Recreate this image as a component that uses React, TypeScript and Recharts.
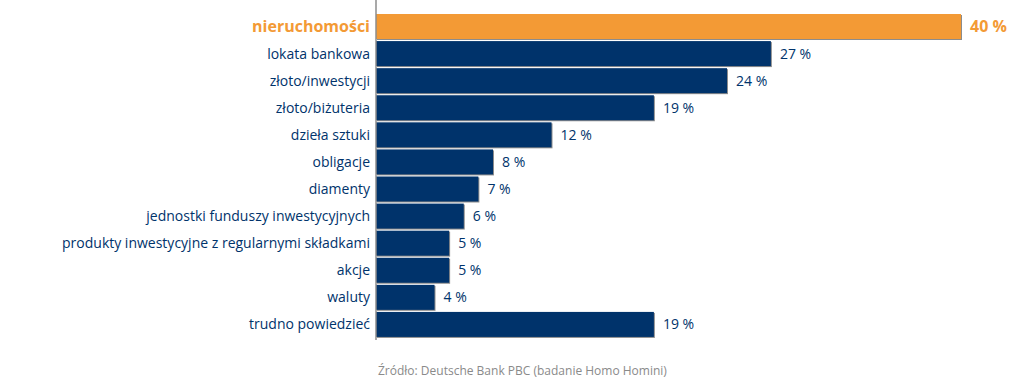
import React from 'react';
import { BarChart, Bar, XAxis, YAxis, Cell, LabelList } from 'recharts';

const categories = [
  'nieruchomości',
  'lokata bankowa',
  'złoto/inwestycji',
  'złoto/biżuteria',
  'dzieła sztuki',
  'obligacje',
  'diamenty',
  'jednostki funduszy inwestycyjnych',
  'produkty inwestycyjne z regularnymi składkami',
  'akcje',
  'waluty',
  'trudno powiedzieć',
];
const shares = [40, 27, 24, 19, 12, 8, 7, 6, 5, 5, 4, 19];
const highlighted = 'nieruchomości';
const sourceNote = 'Źródło: Deutsche Bank PBC (badanie Homo Homini)';

const NAVY = '#00336b';
const ORANGE = '#f39a35';
const FONT = '"Open Sans", "Noto Sans", sans-serif';

const data = categories.map((name, i) => ({ name, value: shares[i] }));

// bar with a thin grey shadow on the right/bottom edge
const ShadowBar = (props: any) => {
  const { x, y, width, height, fill } = props;
  return (
    <g>
      <rect x={x + 1} y={y + 1} width={width} height={height} fill="#8c8c8c" />
      <rect x={x} y={y} width={width} height={height} fill={fill} />
    </g>
  );
};

const CategoryTick = (props: any) => {
  const { x, y, payload } = props;
  const hot = payload.value === highlighted;
  return (
    <text
      x={x}
      y={y}
      dy="0.36em"
      textAnchor="end"
      fill={hot ? ORANGE : NAVY}
      fontFamily={FONT}
      fontSize={hot ? 16 : 14}
      fontWeight={hot ? 700 : 400}
    >
      {payload.value}
    </text>
  );
};

const ValueLabel = (props: any) => {
  const { x, y, width, height, value, index } = props;
  const hot = categories[index] === highlighted;
  return (
    <text
      x={x + width + 9}
      y={y + height / 2}
      dy="0.36em"
      fill={hot ? ORANGE : NAVY}
      fontFamily={FONT}
      fontSize={hot ? 16 : 14}
      fontWeight={hot ? 700 : 400}
    >
      {value} %
    </text>
  );
};

export default function App() {
  return (
    <div style={{ position: 'relative', width: 1014, height: 379, background: '#fff' }}>
      <style>{'body{margin:0}'}</style>
      <BarChart
        width={1014}
        height={379}
        data={data}
        layout="vertical"
        margin={{ top: 0, right: 53, bottom: 39, left: 0 }}
      >
        <XAxis type="number" domain={[0, 40]} hide />
        <YAxis
          type="category"
          dataKey="name"
          width={376}
          axisLine={{ stroke: '#8c8c8c', strokeWidth: 1.5 }}
          tickLine={false}
          tickSize={0}
          tickMargin={6}
          padding={{ top: 13, bottom: 2 }}
          tick={<CategoryTick />}
          interval={0}
        />
        <Bar dataKey="value" barSize={25} shape={<ShadowBar />} isAnimationActive={false}>
          {data.map((d) => (
            <Cell key={d.name} fill={d.name === highlighted ? ORANGE : NAVY} />
          ))}
          <LabelList dataKey="value" content={<ValueLabel />} />
        </Bar>
      </BarChart>
      <div
        style={{
          position: 'absolute',
          left: 378,
          top: 362,
          fontFamily: FONT,
          fontSize: 12,
          color: '#8a8a8a',
          whiteSpace: 'nowrap',
        }}
      >
        {sourceNote}
      </div>
    </div>
  );
}
